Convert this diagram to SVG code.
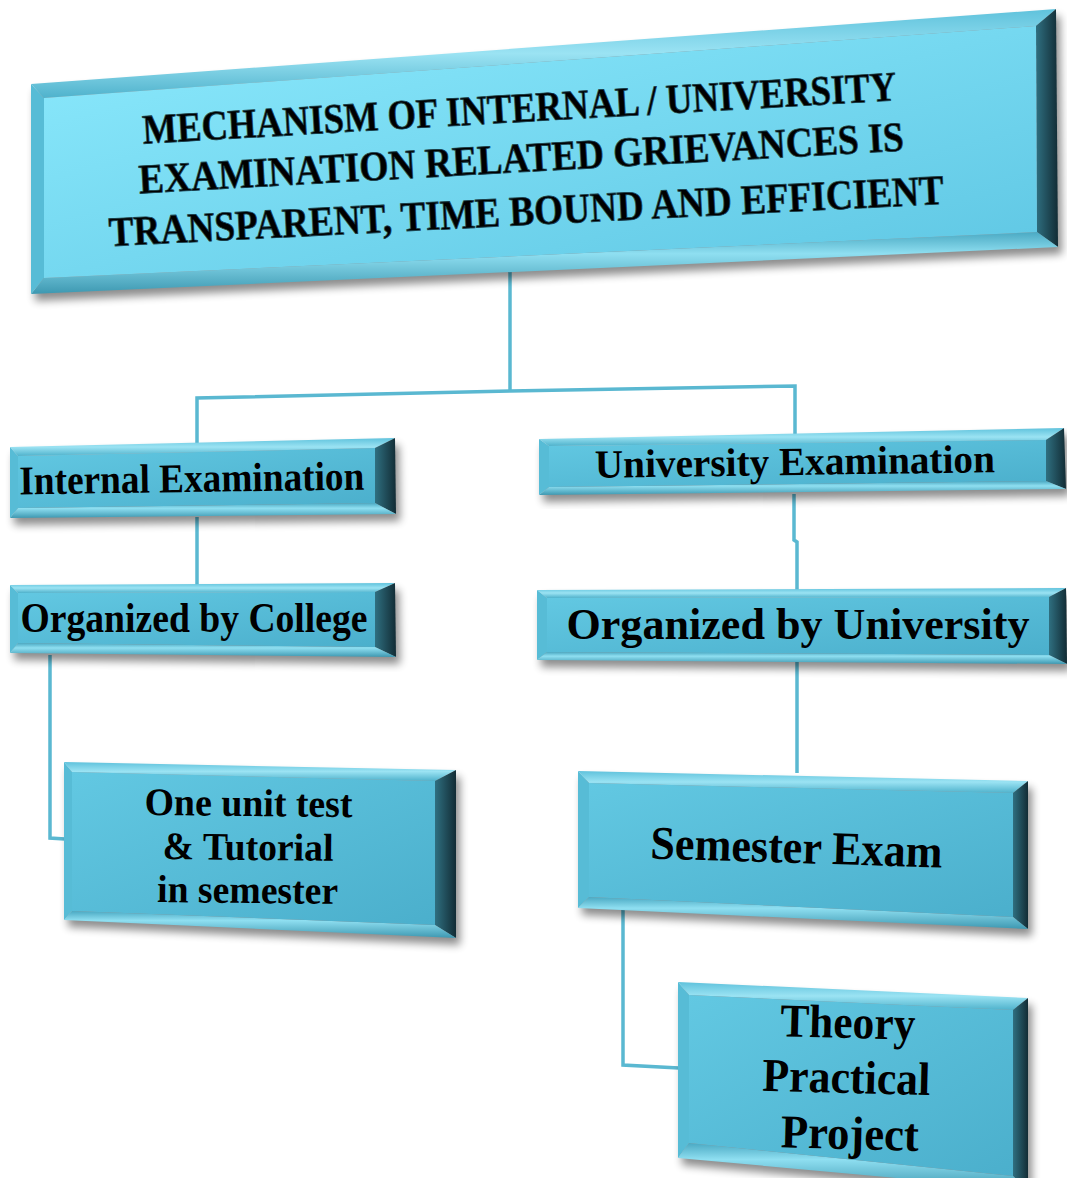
<svg xmlns="http://www.w3.org/2000/svg" width="1067" height="1178" viewBox="0 0 1067 1178">
<defs>
<linearGradient id="gFaceT" x1="0" y1="0" x2="1" y2="1">
<stop offset="0" stop-color="#8ceafd"/><stop offset="1" stop-color="#5ec6e3"/>
</linearGradient>
<linearGradient id="gFace" x1="0" y1="0" x2="1" y2="1">
<stop offset="0" stop-color="#62c8e2"/><stop offset="1" stop-color="#4bafcc"/>
</linearGradient>
<linearGradient id="gRight" x1="0" y1="0" x2="1" y2="0">
<stop offset="0" stop-color="#2f6f80"/><stop offset="1" stop-color="#122c35"/>
</linearGradient>
<linearGradient id="gTop" x1="0" y1="0" x2="0" y2="1">
<stop offset="0" stop-color="#5fc2dc"/><stop offset="0.5" stop-color="#9be3f3"/><stop offset="1" stop-color="#4fb2cc"/>
</linearGradient>
<linearGradient id="gBot" x1="0" y1="0" x2="0" y2="1">
<stop offset="0" stop-color="#4aa9c3"/><stop offset="0.35" stop-color="#8fdff1"/><stop offset="1" stop-color="#3d98b1"/>
</linearGradient>
<filter id="sh" x="-10%" y="-10%" width="120%" height="130%">
<feGaussianBlur in="SourceAlpha" stdDeviation="4"/>
<feOffset dx="4" dy="7" result="b"/>
<feComponentTransfer><feFuncA type="linear" slope="0.45"/></feComponentTransfer>
</filter>
</defs>
<style>
.sh{fill:#000;filter:url(#sh)}
.top{fill:url(#gTop)}
.rt{fill:url(#gRight)}
.bot{fill:url(#gBot)}
.lf{fill:#57bcd6}
.face{fill:url(#gFace)}
.faceT{fill:url(#gFaceT)}
.lbl{font-family:"Liberation Serif","Times New Roman",serif;font-weight:bold;fill:#000;text-anchor:middle}
.ttl{font-family:"Liberation Serif","Times New Roman",serif;font-weight:bold;fill:#000;text-anchor:middle;font-size:42px;stroke:#1a3f4a;stroke-width:0.8}
.con{fill:none;stroke:#5ab8d1;stroke-width:3.5}
</style>
<rect width="1067" height="1178" fill="#fff"/>

<g id="connectors">
<polyline class="con" points="510,270 510,391"/>
<polyline class="con" points="197,447 197,398 510,391 795,386 795,440"/>
<polyline class="con" points="197,517 197,586"/>
<polyline class="con" points="794,494 794,540 797,542 797,590"/>
<polyline class="con" points="50,655 50,838 65,839"/>
<polyline class="con" points="797,662 797,773"/>
<polyline class="con" points="623,908 623,1065 679,1068"/>
</g>

<g id="title">
<polygon class="sh" points="31,84 1056,9 1058,247 31,294"/>
<polygon class="top" points="31,84 1056,9 1036,26 44,98"/>
<polygon class="rt" points="1056,9 1058,247 1037,232 1036,26"/>
<polygon class="bot" points="44,278 1037,232 1058,247 31,294"/>
<polygon class="lf" points="31,84 44,98 44,278 31,294"/>
<polygon class="faceT" points="44,98 1036,26 1037,232 44,278"/>
<text class="ttl" transform="rotate(-3.3 520 122)" x="520" y="122" textLength="755" lengthAdjust="spacingAndGlyphs">MECHANISM OF INTERNAL / UNIVERSITY</text>
<text class="ttl" transform="rotate(-3.2 522 172)" x="522" y="172" textLength="766" lengthAdjust="spacingAndGlyphs">EXAMINATION RELATED GRIEVANCES IS</text>
<text class="ttl" transform="rotate(-2.9 527 225)" x="527" y="225" textLength="836" lengthAdjust="spacingAndGlyphs">TRANSPARENT, TIME BOUND AND EFFICIENT</text>
</g>

<g id="internal">
<polygon class="sh" points="10,447 395,438 396,514 10,518"/>
<polygon class="top" points="10,447 395,438 375,448 18,456"/>
<polygon class="rt" points="395,438 396,514 375,503 375,448"/>
<polygon class="bot" points="18,508 375,503 396,514 10,518"/>
<polygon class="lf" points="10,447 18,456 18,508 10,518"/>
<polygon class="face" points="18,456 375,448 375,503 18,508"/>
<text class="lbl" transform="rotate(-0.8 192 492)" x="192" y="492" font-size="41" textLength="345" lengthAdjust="spacingAndGlyphs">Internal Examination</text>
</g>

<g id="university">
<polygon class="sh" points="539,439 1064,428 1066,489 539,495"/>
<polygon class="top" points="539,439 1064,428 1046,440 549,446"/>
<polygon class="rt" points="1064,428 1066,489 1046,481 1046,440"/>
<polygon class="bot" points="549,487 1046,481 1066,489 539,495"/>
<polygon class="lf" points="539,439 549,446 549,487 539,495"/>
<polygon class="face" points="549,446 1046,440 1046,481 549,487"/>
<text class="lbl" transform="rotate(-0.8 795 475)" x="795" y="475" font-size="40" textLength="400" lengthAdjust="spacingAndGlyphs">University Examination</text>
</g>

<g id="college">
<polygon class="sh" points="10,585 395,583 396,657 10,653"/>
<polygon class="top" points="10,585 395,583 375,592 18,593"/>
<polygon class="rt" points="395,583 396,657 375,647 375,592"/>
<polygon class="bot" points="18,643 375,647 396,657 10,653"/>
<polygon class="lf" points="10,585 18,593 18,643 10,653"/>
<polygon class="face" points="18,593 375,592 375,647 18,643"/>
<text class="lbl" x="194" y="632" font-size="43" textLength="347" lengthAdjust="spacingAndGlyphs">Organized by College</text>
</g>

<g id="byuniversity">
<polygon class="sh" points="537,590 1066,588 1067,664 537,660"/>
<polygon class="top" points="537,590 1066,588 1049,597 547,598"/>
<polygon class="rt" points="1066,588 1067,664 1049,655 1049,597"/>
<polygon class="bot" points="547,652 1049,655 1067,664 537,660"/>
<polygon class="lf" points="537,590 547,598 547,652 537,660"/>
<polygon class="face" points="547,598 1049,597 1049,655 547,652"/>
<text class="lbl" x="798" y="639" font-size="44" textLength="463" lengthAdjust="spacingAndGlyphs">Organized by University</text>
</g>

<g id="unittest">
<polygon class="sh" points="64,762 456,770 456,938 64,920"/>
<polygon class="top" points="64,762 456,770 435,781 72,772"/>
<polygon class="rt" points="456,770 456,938 435,925 435,781"/>
<polygon class="bot" points="72,911 435,925 456,938 64,920"/>
<polygon class="lf" points="64,762 72,772 72,911 64,920"/>
<polygon class="face" points="72,772 435,781 435,925 72,911"/>
<g transform="rotate(0.6 248 858)">
<text class="lbl" x="248" y="816" font-size="39" textLength="208" lengthAdjust="spacingAndGlyphs">One unit test</text>
<text class="lbl" x="248" y="860" font-size="39" textLength="171" lengthAdjust="spacingAndGlyphs">&amp; Tutorial</text>
<text class="lbl" x="248" y="903" font-size="39" textLength="181" lengthAdjust="spacingAndGlyphs">in semester</text>
</g>
</g>

<g id="semester">
<polygon class="sh" points="578,771 1028,781 1028,929 578,908"/>
<polygon class="top" points="578,771 1028,781 1013,793 589,783"/>
<polygon class="rt" points="1028,781 1028,929 1013,917 1013,793"/>
<polygon class="bot" points="589,897 1013,917 1028,929 578,908"/>
<polygon class="lf" points="578,771 589,783 589,897 578,908"/>
<polygon class="face" points="589,783 1013,793 1013,917 589,897"/>
<text class="lbl" transform="rotate(1.8 796 863)" x="796" y="863" font-size="47" textLength="292" lengthAdjust="spacingAndGlyphs">Semester Exam</text>
</g>

<g id="theory">
<polygon class="sh" points="678,982 1028,998 1028,1190 678,1158"/>
<polygon class="top" points="678,982 1028,998 1013,1010 689,995"/>
<polygon class="rt" points="1028,998 1028,1190 1013,1176 1013,1010"/>
<polygon class="bot" points="689,1143 1013,1176 1028,1190 678,1158"/>
<polygon class="lf" points="678,982 689,995 689,1143 678,1158"/>
<polygon class="face" points="689,995 1013,1010 1013,1176 689,1143"/>
<g transform="rotate(1.5 848 1092)">
<text class="lbl" x="846" y="1038" font-size="47" textLength="135" lengthAdjust="spacingAndGlyphs">Theory</text>
<text class="lbl" x="846" y="1093" font-size="47" textLength="168" lengthAdjust="spacingAndGlyphs">Practical</text>
<text class="lbl" x="851" y="1149" font-size="47" textLength="138" lengthAdjust="spacingAndGlyphs">Project</text>
</g>
</g>
</svg>
